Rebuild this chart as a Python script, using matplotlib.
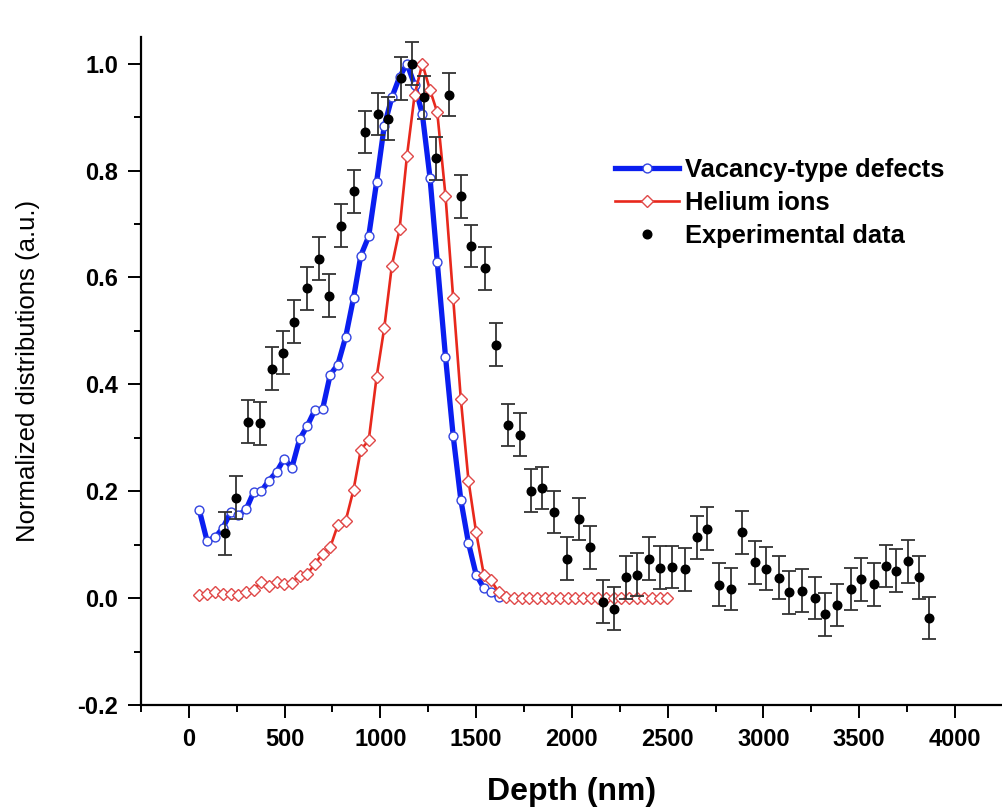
import numpy as np
import matplotlib
matplotlib.use("Agg")
import matplotlib.pyplot as plt
from matplotlib.ticker import MultipleLocator

plt.rcParams['font.family'] = ['Liberation Sans', 'DejaVu Sans']

# SIMULATED PROFILES (shared depth grid, nm)
depth_sim = [55, 95, 138, 177, 219, 259, 299, 338, 378, 418,
             458, 498, 538, 578, 618, 658, 698, 738, 778, 819,
             860, 898, 939, 980, 1020, 1060, 1100, 1139, 1179, 1219,
             1259, 1297, 1340, 1380, 1420, 1460, 1500, 1540, 1578, 1617]
vacancy = [0.164, 0.107, 0.114, 0.131, 0.161, 0.155, 0.166, 0.198, 0.200, 0.220,
           0.236, 0.261, 0.244, 0.297, 0.322, 0.352, 0.353, 0.418, 0.437, 0.489,
           0.562, 0.641, 0.677, 0.778, 0.883, 0.937, 0.975, 1.000, 0.960, 0.906,
           0.787, 0.629, 0.452, 0.304, 0.184, 0.103, 0.044, 0.019, 0.011, 0.002]

# helium profile continues flat out to 2500 nm
depth_he = depth_sim + [1658, 1698, 1738, 1778, 1818, 1858, 1898, 1938, 1978, 2018, 2058,
                        2098, 2138, 2178, 2218, 2258, 2298, 2338, 2378, 2418, 2458, 2498]
helium = [0.005, 0.008, 0.012, 0.008, 0.008, 0.005, 0.012, 0.016, 0.030, 0.022,
          0.030, 0.027, 0.029, 0.042, 0.045, 0.064, 0.083, 0.095, 0.137, 0.145,
          0.203, 0.278, 0.295, 0.413, 0.505, 0.622, 0.690, 0.828, 0.942, 1.000,
          0.951, 0.909, 0.753, 0.562, 0.373, 0.220, 0.123, 0.044, 0.033, 0.011,
          0.002, 0.001, 0.001, 0.001, 0.001, 0.001, 0.001, 0.001, 0.001, 0.001, 0.001,
          0.001, 0.001, 0.001, 0.001, 0.001, 0.001, 0.001, 0.001, 0.001, 0.001, 0.001]

# EXPERIMENTAL DATA
depth_exp = [190, 247, 308, 372, 435, 491, 551, 616, 681, 733,
             795, 861, 922, 985, 1042, 1107, 1166, 1227, 1291, 1356,
             1420, 1474, 1547, 1603, 1666, 1730, 1784, 1846, 1908, 1974,
             2036, 2092, 2160, 2218, 2281, 2339, 2405, 2461, 2524, 2588,
             2653, 2705, 2769, 2832, 2889, 2957, 3015, 3079, 3133, 3201,
             3267, 3324, 3385, 3457, 3511, 3575, 3638, 3693, 3756, 3812, 3867]
exp_val = [0.121, 0.188, 0.330, 0.327, 0.429, 0.459, 0.517, 0.580, 0.635, 0.566,
           0.697, 0.761, 0.872, 0.906, 0.897, 0.973, 1.000, 0.937, 0.823, 0.942,
           0.752, 0.659, 0.617, 0.474, 0.324, 0.306, 0.201, 0.206, 0.161, 0.074,
           0.148, 0.095, -0.007, -0.020, 0.039, 0.044, 0.074, 0.057, 0.058, 0.054,
           0.114, 0.130, 0.025, 0.017, 0.123, 0.067, 0.055, 0.038, 0.011, 0.014,
           0.000, -0.030, -0.013, 0.017, 0.035, 0.026, 0.060, 0.051, 0.069, 0.039, -0.037]
exp_err = 0.04                                  # same error bar on every point

# Figure
fig = plt.figure(figsize=(10.02, 8.11), dpi=100)
ax = fig.add_axes([0.1407, 0.1307, 0.8601, 0.8237])

ax.plot(depth_sim, vacancy, '-', color='#0a1ef0', lw=3.8, marker='o', ms=6.4,
        mfc='white', mec='#3344e0', mew=1.0, label='Vacancy-type defects', zorder=2)
ax.plot(depth_he, helium, '-', color='#e8281c', lw=1.9, marker='D', ms=6.2,
        mfc='white', mec='#e04848', mew=1.0, label='Helium ions', zorder=3)
ax.errorbar(depth_exp, exp_val, yerr=exp_err, fmt='none', ecolor='#333333',
            elinewidth=1.3, capsize=4.8, capthick=1.3, zorder=4)
ax.plot(depth_exp, exp_val, 'o', color='black', ms=6.2, ls='none',
        label='Experimental data', zorder=5)

ax.set_xlim(-250, 4250)
ax.set_ylim(-0.2, 1.05)
ax.xaxis.set_major_locator(MultipleLocator(500))
ax.xaxis.set_minor_locator(MultipleLocator(250))
ax.yaxis.set_major_locator(MultipleLocator(0.2))
ax.yaxis.set_minor_locator(MultipleLocator(0.1))
ax.set_xticks(np.arange(0, 4001, 500))
ax.set_yticks(np.arange(-0.2, 1.01, 0.2))
ax.yaxis.set_major_formatter(matplotlib.ticker.FormatStrFormatter('%.1f'))

for s in ['top', 'right']:
    ax.spines[s].set_visible(False)
for s in ['left', 'bottom']:
    ax.spines[s].set_linewidth(1.6)
ax.tick_params(which='major', direction='out', length=9.5, width=1.4, pad=7,
               labelsize=17)
ax.tick_params(which='minor', direction='out', length=5, width=1.4)
for lab in ax.get_xticklabels() + ax.get_yticklabels():
    lab.set_fontweight('bold')

ax.set_xlabel('Depth (nm)', fontsize=23, fontweight='bold', labelpad=19)
ax.set_ylabel('Normalized distributions (a.u.)', fontsize=18.5, labelpad=27)

ax.legend(loc='upper left', bbox_to_anchor=(0.55, 0.819), frameon=False,
          prop={'size': 18.4, 'weight': 'bold'}, handlelength=2.5,
          handletextpad=0.25, labelspacing=0.36, borderpad=0, borderaxespad=0)

fig.savefig('out.png', dpi=100)
